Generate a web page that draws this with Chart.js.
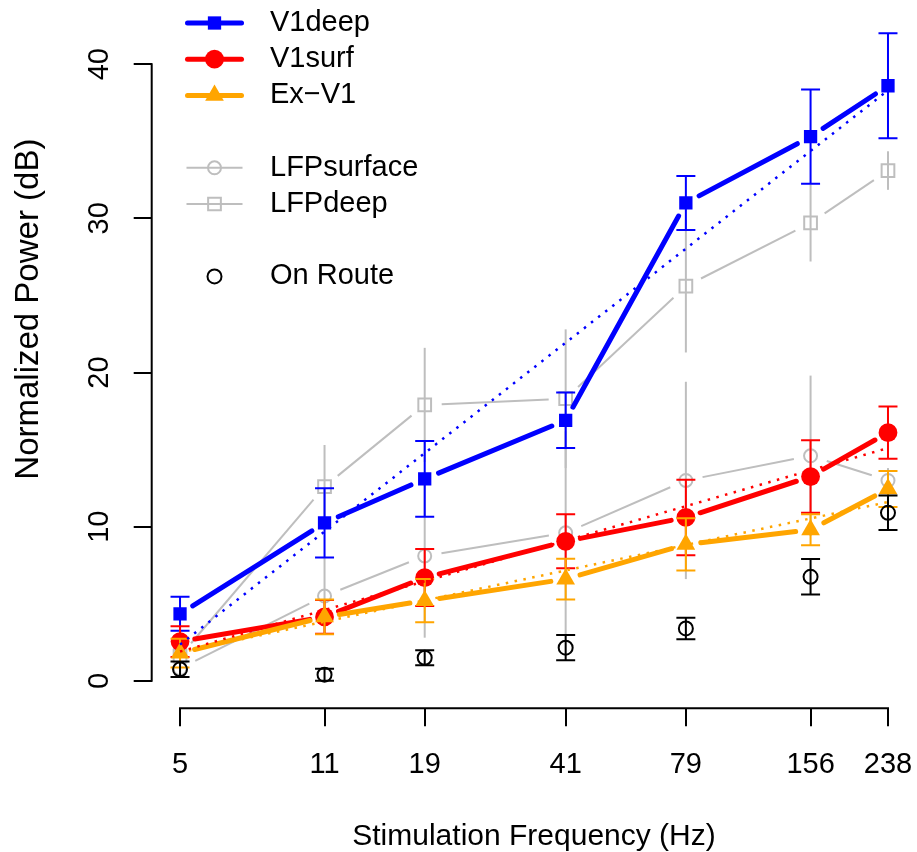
<!DOCTYPE html>
<html>
<head>
<meta charset="utf-8">
<script src="https://cdn.jsdelivr.net/npm/chart.js@4/dist/chart.umd.min.js"></script>
<style>
  html, body { margin: 0; padding: 0; background: #ffffff; overflow: hidden; }
  #wrap { width: 917px; height: 852px; overflow: hidden; position: relative; }
  #c { display: block; position: absolute; left: 0; top: -90px; }
</style>
</head>
<body>
<div id="wrap"><canvas id="c" width="917" height="942"></canvas></div>
<script>
// ---- data ----
const FREQS = [5, 11, 19, 41, 79, 156, 238];
const X_TICKS = [5, 11, 19, 41, 79, 156, 238];
const Y_TICKS = [0, 10, 20, 30, 40];

const V1DEEP      = [4.35, 10.25, 13.1, 16.9, 31.0, 35.3, 38.6];
const V1DEEP_SE   = [1.1, 2.25, 2.45, 1.8, 1.75, 3.05, 3.4];
const V1SURF      = [2.55, 4.15, 6.7, 9.05, 10.6, 13.25, 16.1];
const V1SURF_SE   = [1.0, 1.1, 1.85, 1.75, 2.45, 2.35, 1.7];
const EXV1        = [1.8, 4.15, 5.2, 6.6, 8.85, 9.8, 12.45];
const EXV1_SE     = [0.93, 1.12, 1.4, 1.32, 1.7, 1.0, 1.17];
const LFPSURF     = [0.8, 5.5, 8.1, 9.6, 13.0, 14.6, 13.0];
const LFPSURF_SE  = [0.6, 2.5, 5.3, 6.6, 6.4, 5.2, 0.8];
const LFPDEEP     = [1.6, 12.6, 17.9, 18.3, 25.6, 29.7, 33.1];
const LFPDEEP_SE  = [0.8, 2.7, 3.7, 4.5, 4.3, 2.5, 1.25];
const ONROUTE     = [0.75, 0.4, 1.5, 2.15, 3.4, 6.75, 10.9];
const ONROUTE_SE  = [0.5, 0.39, 0.48, 0.82, 0.7, 1.15, 1.12];

// dotted trend lines (end values read at 5 Hz and 238 Hz)
const FIT_X       = [5, 238];
const V1DEEP_FIT  = [2.35, 38.3];
const V1SURF_FIT  = [1.9, 15.1];
const EXV1_FIT    = [1.85, 11.6];

const LABELS = { v1deep: 'V1deep', v1surf: 'V1surf', exv1: 'Ex\u2212V1', lfpsurf: 'LFPsurface', lfpdeep: 'LFPdeep', onroute: 'On Route' };
const LEGEND_ROWS = ['V1deep', 'V1surf', 'Ex\u2212V1', '', 'LFPsurface', 'LFPdeep', '', 'On Route'];

const X_TITLE = 'Stimulation Frequency (Hz)';
const Y_TITLE = 'Normalized Power (dB)';

// ---- styling ----
const BLUE = '#0000FF', RED = '#FF0000', ORANGE = '#FFA500', GRAY = '#BEBEBE', BLACK = '#000000';
const FONT = "'Liberation Sans', Arial, Helvetica, sans-serif";
const FS = 29;
const SHIFT = 90; // canvas is shifted up by this many px (plot region extends above the visible page)

function pts(xs, ys) { return xs.map((x, i) => ({ x: x, y: ys[i] })); }

const datasets = [
  { label: LABELS.onroute, data: pts(FREQS, ONROUTE), showLine: false,
    pointStyle: 'circle', pointRadius: 7, borderColor: BLACK, backgroundColor: 'rgba(0,0,0,0)', borderWidth: 2,
    se: ONROUTE_SE, errColor: BLACK, cap: 9.5 },
  { label: 'fit-v1deep', data: pts(FIT_X, V1DEEP_FIT), borderColor: BLUE, borderWidth: 2.5, borderDash: [2.5, 6.5],
    borderCapStyle: 'butt', pointRadius: 0, fill: false },
  { label: 'fit-v1surf', data: pts(FIT_X, V1SURF_FIT), borderColor: RED, borderWidth: 2.5, borderDash: [2.5, 6.5],
    borderCapStyle: 'butt', pointRadius: 0, fill: false },
  { label: 'fit-exv1', data: pts(FIT_X, EXV1_FIT), borderColor: ORANGE, borderWidth: 2.5, borderDash: [2.5, 6.5],
    borderCapStyle: 'butt', pointRadius: 0, fill: false },
  { label: LABELS.exv1, data: pts(FREQS, EXV1), showLine: false,
    pointStyle: 'triangle', pointRadius: 10.8, borderColor: ORANGE, backgroundColor: ORANGE, borderWidth: 0,
    gapLine: { width: 5, gap: 15, cap: 'round' }, se: EXV1_SE, errColor: ORANGE, cap: 9.5 },
  { label: LABELS.v1surf, data: pts(FREQS, V1SURF), showLine: false,
    pointStyle: 'circle', pointRadius: 9.4, borderColor: RED, backgroundColor: RED, borderWidth: 0,
    gapLine: { width: 5, gap: 15, cap: 'round' }, se: V1SURF_SE, errColor: RED, cap: 9.5 },
  { label: LABELS.v1deep, data: pts(FREQS, V1DEEP), showLine: false,
    pointStyle: 'rect', pointRadius: 9.4, borderColor: BLUE, backgroundColor: BLUE, borderWidth: 0,
    gapLine: { width: 5, gap: 15, cap: 'round' }, se: V1DEEP_SE, errColor: BLUE, cap: 9.5 },
  { label: LABELS.lfpdeep, data: pts(FREQS, LFPDEEP), showLine: false,
    pointStyle: 'rect', pointRadius: 9, borderColor: GRAY, backgroundColor: 'rgba(0,0,0,0)', borderWidth: 2,
    gapLine: { width: 2, gap: 17, cap: 'butt' }, se: LFPDEEP_SE, errColor: GRAY, cap: 0 },
  { label: LABELS.lfpsurf, data: pts(FREQS, LFPSURF), showLine: false,
    pointStyle: 'circle', pointRadius: 6.5, borderColor: GRAY, backgroundColor: 'rgba(0,0,0,0)', borderWidth: 2,
    gapLine: { width: 2, gap: 17, cap: 'butt' }, se: LFPSURF_SE, errColor: GRAY, cap: 0 }
];

const decor = {
  id: 'decor',
  beforeDatasetDraw(chart, args) {
    const ds = chart.data.datasets[args.index];
    const meta = args.meta;
    const ctx = chart.ctx;
    const ys = chart.scales.y;
    ctx.save();
    if (ds.gapLine) {
      ctx.strokeStyle = ds.borderColor;
      ctx.lineWidth = ds.gapLine.width;
      ctx.lineCap = ds.gapLine.cap;
      for (let i = 0; i < meta.data.length - 1; i++) {
        const a = meta.data[i], b = meta.data[i + 1];
        const dx = b.x - a.x, dy = b.y - a.y, L = Math.hypot(dx, dy), g = ds.gapLine.gap;
        if (L <= 2 * g) continue;
        const ux = dx / L, uy = dy / L;
        ctx.beginPath();
        ctx.moveTo(a.x + ux * g, a.y + uy * g);
        ctx.lineTo(b.x - ux * g, b.y - uy * g);
        ctx.stroke();
      }
    }
    if (ds.se) {
      ctx.strokeStyle = ds.errColor;
      ctx.lineWidth = 2;
      ctx.lineCap = 'butt';
      meta.data.forEach((p, i) => {
        const v = ds.data[i].y, e = ds.se[i];
        const yt = ys.getPixelForValue(v + e), yb = ys.getPixelForValue(v - e);
        ctx.beginPath();
        ctx.moveTo(p.x, yt); ctx.lineTo(p.x, yb);
        if (ds.cap) {
          ctx.moveTo(p.x - ds.cap, yt); ctx.lineTo(p.x + ds.cap, yt);
          ctx.moveTo(p.x - ds.cap, yb); ctx.lineTo(p.x + ds.cap, yb);
        }
        ctx.stroke();
      });
    }
    ctx.restore();
  },
  afterDraw(chart) {
    const ctx = chart.ctx;
    const xs = chart.scales.x, ys = chart.scales.y;
    const area = chart.chartArea;
    ctx.save();
    // axis lines spanning first..last tick, like R
    ctx.strokeStyle = BLACK;
    ctx.lineWidth = 2;
    ctx.lineCap = 'butt';
    ctx.beginPath();
    ctx.moveTo(xs.getPixelForValue(X_TICKS[0]) - 1, area.bottom);
    ctx.lineTo(xs.getPixelForValue(X_TICKS[X_TICKS.length - 1]) + 1, area.bottom);
    ctx.moveTo(area.left, ys.getPixelForValue(Y_TICKS[0]) + 1);
    ctx.lineTo(area.left, ys.getPixelForValue(Y_TICKS[Y_TICKS.length - 1]) - 1);
    ctx.stroke();

    // legend
    const lx0 = 187.5, lx1 = 241.5, mx = 214.5, tx = 270, y0 = 23 + SHIFT, dy = 36.2;
    ctx.font = FS + 'px ' + FONT;
    ctx.textBaseline = 'middle';
    ctx.textAlign = 'left';
    LEGEND_ROWS.forEach((name, r) => {
      if (!name) return;
      const ds = chart.data.datasets.find(d => d.label === name);
      const y = y0 + r * dy;
      if (ds.gapLine) {
        ctx.strokeStyle = ds.borderColor;
        ctx.lineWidth = ds.gapLine.width;
        ctx.lineCap = ds.gapLine.cap;
        ctx.beginPath();
        ctx.moveTo(ds.gapLine.cap === 'round' ? lx0 : lx0 - 1, y);
        ctx.lineTo(ds.gapLine.cap === 'round' ? lx1 : lx1 + 1, y);
        ctx.stroke();
      }
      ctx.fillStyle = ds.backgroundColor;
      ctx.strokeStyle = ds.borderColor;
      ctx.lineWidth = ds.borderWidth;
      Chart.helpers.drawPoint(ctx, { pointStyle: ds.pointStyle, radius: ds.pointRadius, rotation: 0, borderWidth: ds.borderWidth }, mx, y);
      ctx.fillStyle = BLACK;
      ctx.fillText(name, tx, y);
    });
    ctx.restore();
  }
};

function zeroPad(s) { s.paddingTop = 0; s.paddingBottom = 0; s.paddingLeft = 0; s.paddingRight = 0; }

new Chart(document.getElementById('c'), {
  type: 'line',
  data: { datasets: datasets },
  plugins: [decor],
  options: {
    responsive: false,
    animation: false,
    devicePixelRatio: 1,
    events: [],
    layout: { autoPadding: false, padding: { top: 0, left: 0, right: 0.7, bottom: 0 } },
    plugins: { legend: { display: false }, tooltip: { enabled: false }, title: { display: false } },
    elements: { line: { tension: 0 } },
    scales: {
      x: {
        type: 'logarithmic',
        min: 4.2838, max: 277.76,
        afterBuildTicks: (s) => { s.ticks = X_TICKS.map(v => ({ value: v })); },
        afterFit: (s) => { s.height = 143.7; zeroPad(s); },
        grid: { display: true, drawOnChartArea: false, drawTicks: true, tickLength: 18, color: BLACK, tickColor: BLACK, lineWidth: 2, tickWidth: 2 },
        border: { display: false },
        ticks: { autoSkip: false, maxRotation: 0, minRotation: 0, padding: 21, color: BLACK,
                 font: { family: FONT, size: FS }, callback: (v) => String(v) },
        title: { display: true, text: X_TITLE, color: BLACK, font: { family: FONT, size: 30 }, padding: { top: 0, bottom: -3 } }
      },
      y: {
        type: 'linear',
        min: -1.78, max: 50,
        afterBuildTicks: (s) => { s.ticks = Y_TICKS.map(v => ({ value: v })); },
        afterFit: (s) => { s.width = 151.7; zeroPad(s); },
        grid: { display: true, drawOnChartArea: false, drawTicks: true, tickLength: 18, color: BLACK, tickColor: BLACK, lineWidth: 2, tickWidth: 2 },
        border: { display: false },
        ticks: { autoSkip: false, minRotation: 90, maxRotation: 90, crossAlign: 'center', padding: 17.6, color: BLACK,
                 font: { family: FONT, size: FS }, callback: (v) => String(v) },
        title: { display: true, text: Y_TITLE, color: BLACK, font: { family: FONT, size: 33 }, padding: { top: 9, bottom: 0 } }
      }
    }
  }
});
</script>
</body>
</html>
